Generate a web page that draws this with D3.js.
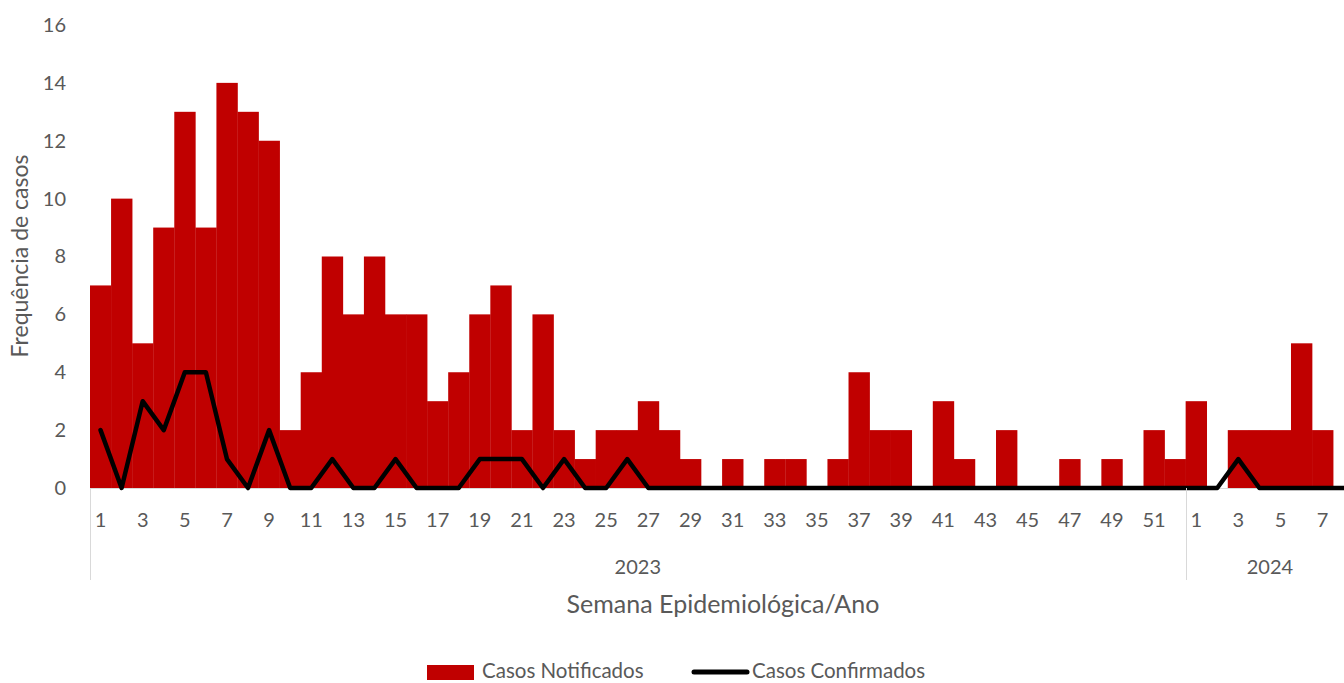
<!DOCTYPE html>
<html>
<head>
<meta charset="utf-8">
<script src="https://cdn.jsdelivr.net/npm/d3@7"></script>
<style>
  body { margin: 0; background: #fff; }
  svg text { font-family: Lato, "Open Sans", sans-serif; fill: #595959; }
</style>
</head>
<body>
<svg id="chart" width="1344" height="683"></svg>
<script>
// weeks shown per year (2024 runs one week past the right edge of the picture)
const years = ['2023', '2024'];
const weeks2023 = d3.range(1, 53);
const weeks2024 = d3.range(1, 9);

const notificados2023 = [7, 10, 5, 9, 13, 9, 14, 13, 12, 2,
    4, 8, 6, 8, 6, 6, 3, 4, 6, 7,
    2, 6, 2, 1, 2, 2, 3, 2, 1, 0,
    1, 0, 1, 1, 0, 1, 4, 2, 2, 0,
    3, 1, 0, 2, 0, 0, 1, 0, 1, 0, 2, 1];
const notificados2024 = [3, 0, 2, 2, 2, 5, 2, 0];

const confirmados2023 = [2, 0, 3, 2, 4, 4, 1, 0, 2, 0,
    0, 1, 0, 0, 1, 0, 0, 0, 1, 1,
    1, 0, 1, 0, 0, 1, 0, 0, 0, 0,
    0, 0, 0, 0, 0, 0, 0, 0, 0, 0,
    0, 0, 0, 0, 0, 0, 0, 0, 0, 0, 0, 0];
const confirmados2024 = [0, 0, 1, 0, 0, 0, 0, 0];

const yTicks = [0, 2, 4, 6, 8, 10, 12, 14, 16];

// flatten into one row per week
const rows = [];
weeks2023.forEach((w, i) => rows.push({key: `2023-${w}`, year: '2023', week: w, notif: notificados2023[i], conf: confirmados2023[i]}));
weeks2024.forEach((w, i) => rows.push({key: `2024-${w}`, year: '2024', week: w, notif: notificados2024[i], conf: confirmados2024[i]}));

const LEFT = 90;
const BAND = 21.07;
const BASE_Y = 488;

const svg = d3.select('#chart');

const x = d3.scaleBand()
    .domain(rows.map(d => d.key))
    .range([LEFT, LEFT + BAND * rows.length])
    .padding(0);

const y = d3.scaleLinear()
    .domain([0, 16])
    .range([BASE_Y, 25]);

// bars
svg.append('g')
    .selectAll('rect')
    .data(rows.filter(d => d.notif > 0))
    .join('rect')
    .attr('x', d => x(d.key))
    .attr('y', d => y(d.notif))
    .attr('width', x.bandwidth() + 0.3)
    .attr('height', d => y(0) - y(d.notif))
    .attr('fill', '#c00000');

// x baseline
svg.append('line')
    .attr('x1', LEFT).attr('x2', 1344)
    .attr('y1', BASE_Y + 0.5).attr('y2', BASE_Y + 0.5)
    .attr('stroke', '#d9d9d9').attr('stroke-width', 1);

// line of confirmed cases
const line = d3.line()
    .x(d => x(d.key) + x.bandwidth() / 2)
    .y(d => y(d.conf));

svg.append('path')
    .datum(rows)
    .attr('d', line)
    .attr('fill', 'none')
    .attr('stroke', '#000')
    .attr('stroke-width', 4.5)
    .attr('stroke-linejoin', 'round')
    .attr('stroke-linecap', 'round');

// y axis
const yAxis = svg.append('g')
    .attr('transform', `translate(${LEFT},0)`)
    .call(d3.axisLeft(y).tickValues(yTicks).tickSize(0).tickPadding(24));
yAxis.select('.domain').remove();
yAxis.selectAll('text').style('font-size', '20px').attr('fill', '#595959');

// x axis: odd week numbers
const xAxis = svg.append('g')
    .attr('transform', `translate(0,${BASE_Y})`)
    .call(d3.axisBottom(x)
        .tickValues(rows.filter(d => d.week % 2 === 1).map(d => d.key))
        .tickFormat(k => k.split('-')[1])
        .tickSize(0)
        .tickPadding(25));
xAxis.select('.domain').remove();
xAxis.selectAll('text').style('font-size', '20px').attr('fill', '#595959');

// year groups: separators and labels
years.forEach(yr => {
    const yrRows = rows.filter(d => d.year === yr);
    const x0 = x(yrRows[0].key);
    const x1 = x(yrRows[yrRows.length - 1].key) + x.bandwidth();
    svg.append('line')
        .attr('x1', Math.round(x0) + 0.5).attr('x2', Math.round(x0) + 0.5)
        .attr('y1', BASE_Y).attr('y2', 580)
        .attr('stroke', '#d9d9d9').attr('stroke-width', 1);
    svg.append('text')
        .attr('x', (x0 + x1) / 2)
        .attr('y', 574)
        .attr('text-anchor', 'middle')
        .style('font-size', '20px')
        .text(yr);
});

// axis titles
svg.append('text')
    .attr('x', 723)
    .attr('y', 613)
    .attr('text-anchor', 'middle')
    .style('font-size', '25px')
    .text('Semana Epidemiológica/Ano');

svg.append('text')
    .attr('transform', 'translate(28, 256) rotate(-90)')
    .attr('text-anchor', 'middle')
    .style('font-size', '23px')
    .text('Frequência de casos');

// legend
const legend = svg.append('g');
legend.append('rect')
    .attr('x', 427).attr('y', 665)
    .attr('width', 47).attr('height', 15)
    .attr('fill', '#c00000');
legend.append('text')
    .attr('x', 482).attr('y', 670)
    .attr('dominant-baseline', 'central')
    .style('font-size', '20.5px')
    .text('Casos Notificados');
legend.append('line')
    .attr('x1', 694).attr('x2', 747)
    .attr('y1', 672).attr('y2', 672)
    .attr('stroke', '#000').attr('stroke-width', 5)
    .attr('stroke-linecap', 'round');
legend.append('text')
    .attr('x', 752).attr('y', 670)
    .attr('dominant-baseline', 'central')
    .style('font-size', '20.5px')
    .text('Casos Confirmados');
</script>
</body>
</html>
